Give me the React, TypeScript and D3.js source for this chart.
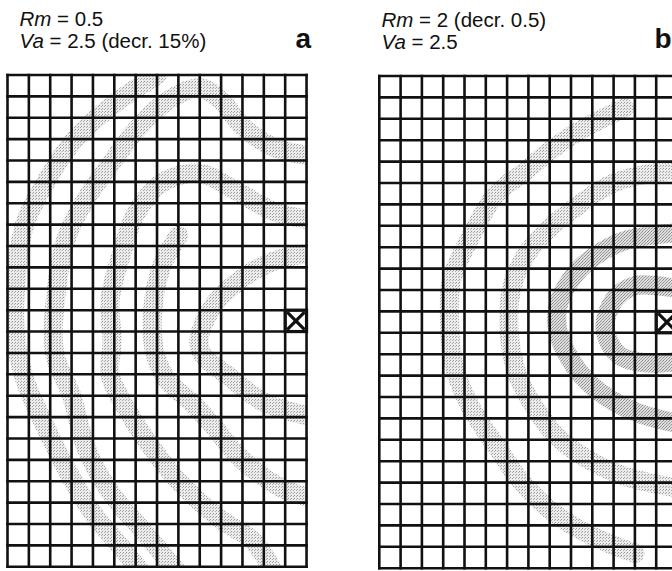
import React from 'react';
import * as d3 from 'd3';

// grid size (cells) and the marked electrode cell [col, row]
const COLS = 14;
const ROWS = 23;
const markerCell: [number, number] = [13, 11];

// panel labels
const rmA = '0.5';
const vaA = '2.5 (decr. 15%)';
const rmB = '2 (decr. 0.5)';
const vaB = '2.5';

// wave-front bands in grid units [col, row]
const armsA: [number, number][][] = [
  [[7, 0], [4.8, 1.5], [3, 3.2], [1.8, 5], [0.8, 7], [0.4, 9.5], [0.4, 12.5], [0.9, 14.5], [1.8, 16.5], [2.8, 18.5], [4, 20.5], [5.5, 22.3], [6.3, 23.3]],
  [[14.3, 3.8], [12.5, 3.4], [11, 2.4], [10, 1.2], [9, 0.6], [7.5, 1.2], [6, 2.6], [4.8, 4.2], [3.8, 5.6], [2.8, 7.5], [2.3, 10], [2.2, 13], [3, 15], [3.7, 17.5], [4.8, 19.5], [6.5, 21.5], [8, 23.3]],
  [[14.3, 6.8], [12.5, 6.4], [10.5, 5.3], [9, 4.6], [7.3, 5], [6, 6.5], [5.3, 8.5], [4.8, 10.5], [4.9, 12.5], [4.8, 14], [5.8, 16], [6.8, 17.5], [8, 19], [10, 20.8], [11.5, 21.8], [12.5, 23.3]],
  [[14.3, 8.3], [12.5, 8.7], [11, 9.5], [9.5, 11], [9, 12.8], [10.5, 14.2], [12, 15.3], [14.3, 16]],
  [[8, 7.5], [7.2, 9], [6.8, 11], [6.9, 13], [7.5, 14.3], [8.7, 15.4], [9.7, 16.5], [10.6, 17.6], [11.7, 18.6], [13, 19.4], [14.3, 19.8]],
];

const armsB: [number, number][][] = [
  [[11.5, 1.5], [9.5, 2.5], [8, 3.5], [6.8, 4.5], [5.5, 5.5], [4.3, 7.5], [3.4, 9.5], [3.3, 11.5], [3.5, 13.5], [4.3, 15.5], [5.5, 17.3], [6.7, 19], [8.3, 20.5], [10, 21.5], [12, 22.3]],
  [[14.3, 4.3], [11, 5], [9, 6.3], [7.8, 7.3], [6.8, 8.5], [6.2, 10], [6.1, 12], [6.5, 14], [7.3, 15.5], [8.3, 16.8], [9.6, 17.8], [11.5, 18.7], [14.3, 19.3]],
  [[14.3, 7.3], [11.5, 7.7], [10, 8.5], [9, 9.5], [8.4, 10.7], [8.4, 12], [9, 13.3], [9.8, 14.3], [11, 15.2], [12.3, 15.8], [14.3, 16.3]],
  [[14.3, 10], [12, 9.8], [11, 10.5], [10.6, 11.8], [11.2, 13], [12.5, 13.4], [14.3, 13.3]],
];

const INK = '#111';

function Panel({ id, left, top, cw, ch, arms, darkFrom, rm, va, letter, textX, textY, letterX }: any) {
  const x = d3.scaleLinear().domain([0, COLS]).range([left, left + COLS * cw]);
  const y = d3.scaleLinear().domain([0, ROWS]).range([top, top + ROWS * ch]);
  const line = d3.line<[number, number]>()
    .x(d => x(d[0]))
    .y(d => y(d[1]))
    .curve(d3.curveCatmullRom.alpha(0.5));
  const [mc, mr] = markerCell;

  return (
    <g>
      <defs>
        <clipPath id={`clip-${id}`}>
          <rect x={x(0)} y={y(0)} width={x(COLS) - x(0)} height={y(ROWS) - y(0)} />
        </clipPath>
      </defs>

      {/* speckled wave bands */}
      <g clipPath={`url(#clip-${id})`} fill="none" strokeLinecap="round" filter="url(#soft)">
        {arms.map((a: [number, number][], i: number) => (
          <path key={i} d={line(a) || ''}
            stroke={i >= darkFrom ? 'url(#speckDark)' : 'url(#speck)'}
            strokeWidth={cw * 0.9} />
        ))}
      </g>

      {/* grid */}
      <g stroke={INK} strokeWidth={2.6}>
        {d3.range(COLS + 1).map(i => (
          <line key={'v' + i} x1={x(i)} x2={x(i)} y1={y(0) - 1.3} y2={y(ROWS) + 1.3} />
        ))}
        {d3.range(ROWS + 1).map(j => (
          <line key={'h' + j} x1={x(0) - 1.3} x2={x(COLS) + 1.3} y1={y(j)} y2={y(j)} />
        ))}
      </g>

      {/* electrode marker */}
      <g stroke={INK} strokeWidth={3.2} fill="none">
        <rect x={x(mc)} y={y(mr)} width={x(mc + 1) - x(mc)} height={y(mr + 1) - y(mr)} />
        <line x1={x(mc) + 2} y1={y(mr) + 2} x2={x(mc + 1) - 2} y2={y(mr + 1) - 2} />
        <line x1={x(mc + 1) - 2} y1={y(mr) + 2} x2={x(mc) + 2} y2={y(mr + 1) - 2} />
      </g>

      <g fontFamily="'Liberation Sans', Arial, sans-serif" fill={INK}>
        <text x={textX} y={textY} fontSize={20.5}>
          <tspan fontStyle="italic">Rm</tspan> = {rm}
        </text>
        <text x={textX} y={textY + 22.3} fontSize={20.5}>
          <tspan fontStyle="italic">Va</tspan> = {va}
        </text>
        <text x={letterX} y={48.3} fontSize={28} fontWeight="bold">{letter}</text>
      </g>
    </g>
  );
}

export default function App() {
  return (
    <svg width={672} height={571} style={{ position: 'absolute', left: 0, top: 0, background: '#fff' }}>
      <defs>
        <pattern id="speck" width={3} height={3} patternUnits="userSpaceOnUse">
          <rect width={3} height={3} fill="#ececec" />
          <rect x={0} y={0} width={1} height={1} fill="#9a9a9a" />
          <rect x={2} y={1} width={1} height={1} fill="#aaaaaa" />
        </pattern>
        <pattern id="speckDark" width={3} height={3} patternUnits="userSpaceOnUse">
          <rect width={3} height={3} fill="#dedede" />
          <rect x={0} y={0} width={1} height={1} fill="#8a8a8a" />
          <rect x={2} y={1} width={1} height={1} fill="#959595" />
          <rect x={1} y={2} width={1} height={1} fill="#a0a0a0" />
        </pattern>
        <filter id="soft" x="-5%" y="-5%" width="110%" height="110%">
          <feGaussianBlur stdDeviation={0.55} />
        </filter>
      </defs>
      <rect width={672} height={571} fill="#fff" />
      <Panel id="a" left={7.5} top={75} cw={21.36} ch={21.38} arms={armsA} darkFrom={99}
        rm={rmA} va={vaA} letter="a" textX={19.5} textY={26} letterX={295.5} />
      <Panel id="b" left={379.3} top={76} cw={21.3} ch={21.4} arms={armsB} darkFrom={2}
        rm={rmB} va={vaB} letter="b" textX={381.5} textY={27} letterX={654.5} />
    </svg>
  );
}
